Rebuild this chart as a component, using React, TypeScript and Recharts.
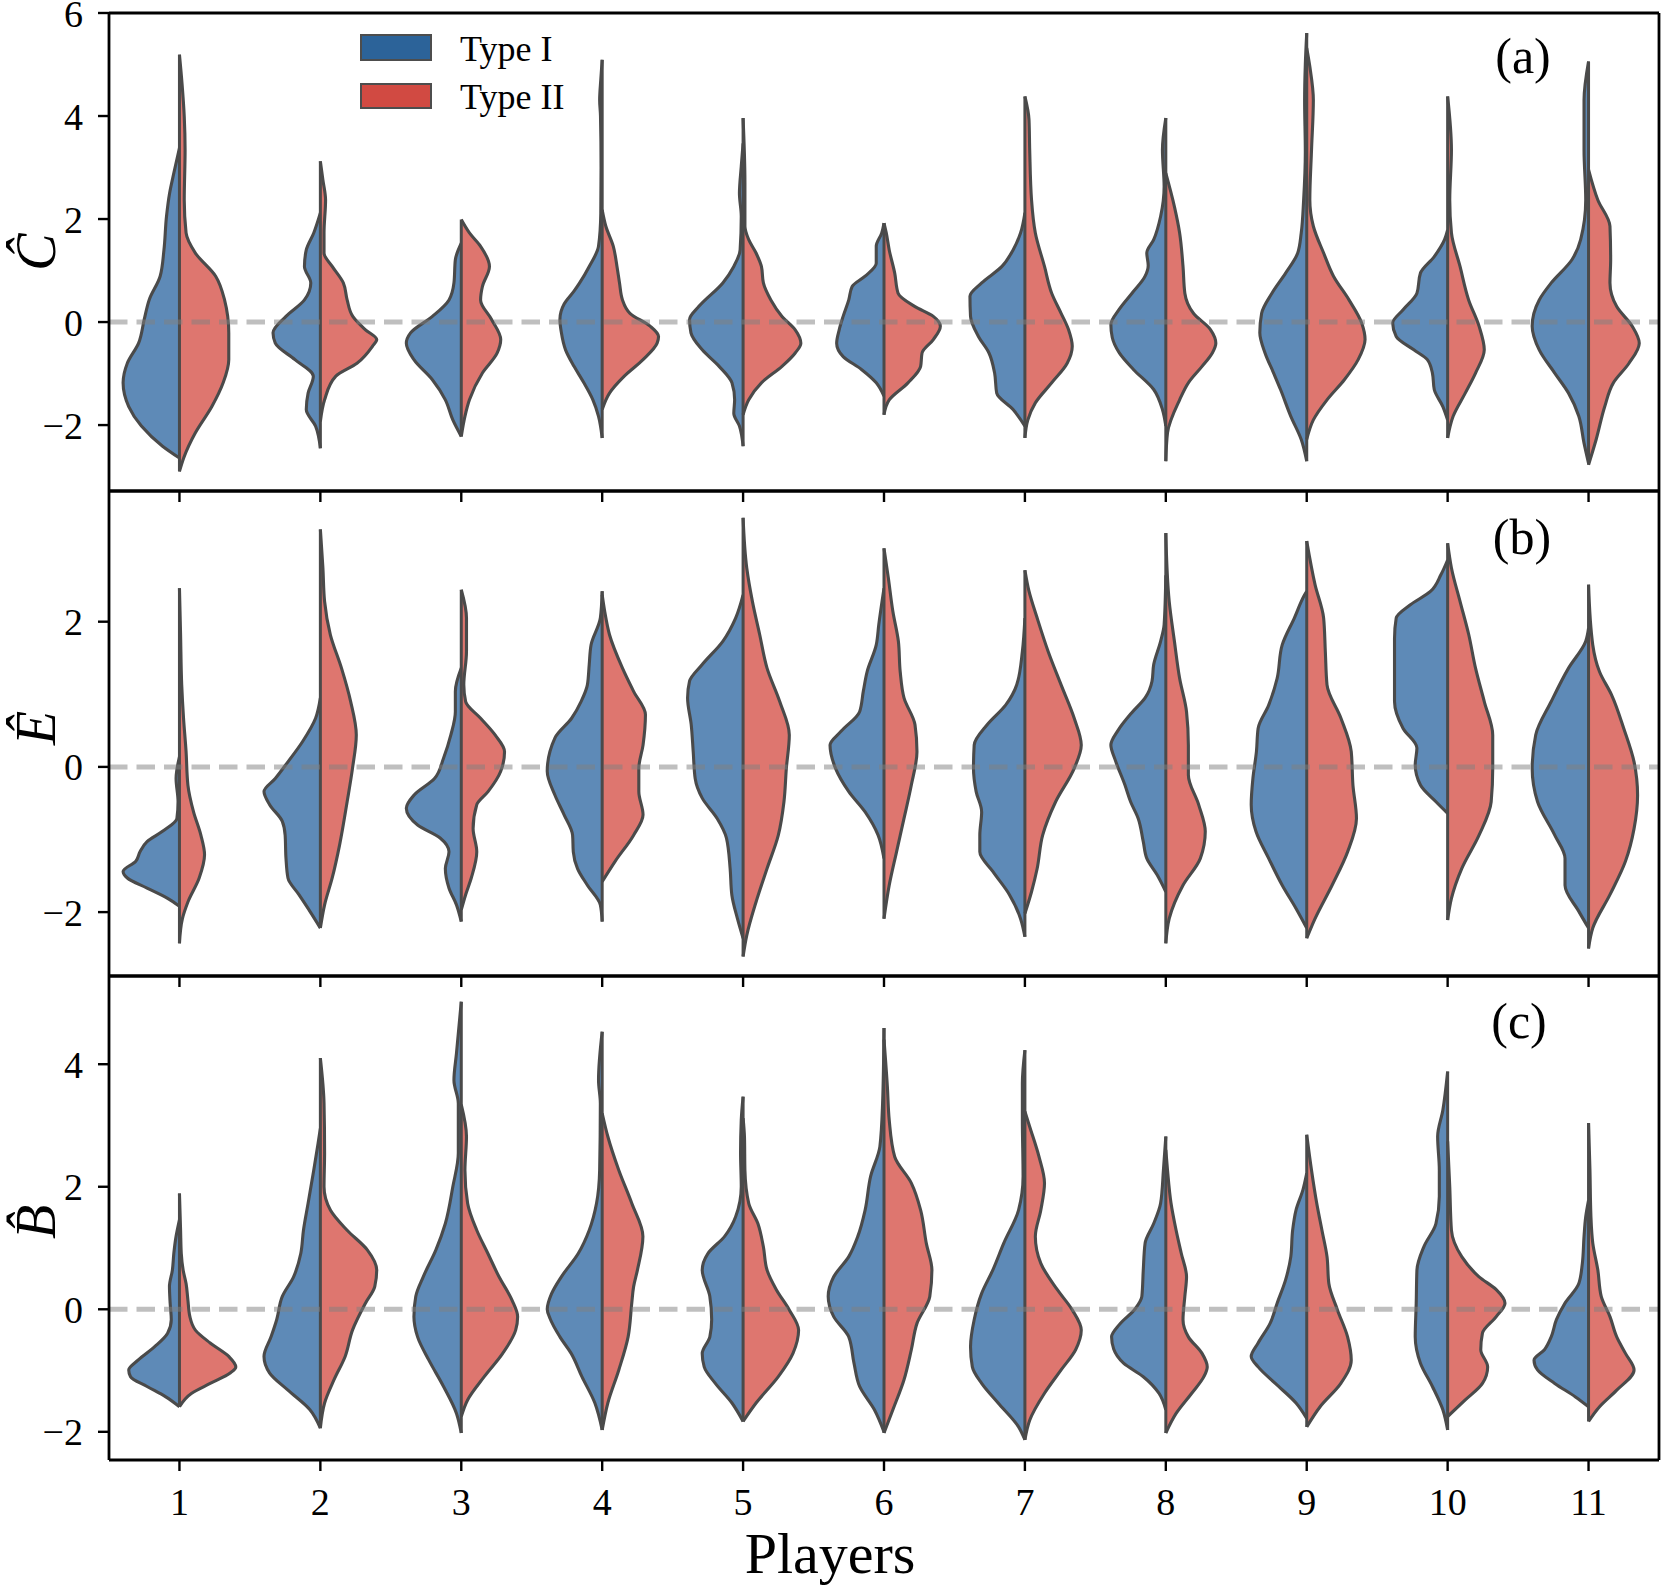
import { ComposedChart, Area, XAxis, YAxis, ReferenceLine } from "recharts";

type Pt = [number, number]; // [value, half width in player units]

const players = [1, 2, 3, 4, 5, 6, 7, 8, 9, 10, 11];

// panel (a) C-hat
const cTicks = [-2, 0, 2, 4, 6];
const cDomain: [number, number] = [-3.28, 6];
const cTypeI: Pt[][] = [
  [[-2.64,0],[-2.41,0.12],[-2.02,0.27],[-1.64,0.36],[-1.18,0.4],[-0.8,0.37],[-0.41,0.29],[0.05,0.25],[0.43,0.215],[0.89,0.137],[1.4,0.11],[2.05,0.092],[2.5,0.07],[2.89,0.04],[3.38,0]],
  [[-2.45,0],[-2.02,0.034],[-1.7,0.1],[-1.38,0.087],[-1.05,0.05],[-0.73,0.18],[-0.41,0.32],[-0.21,0.336],[0.11,0.244],[0.43,0.113],[0.76,0.068],[1.08,0.113],[1.4,0.1],[1.73,0.047],[2.12,0]],
  [[-2.22,0],[-1.9,0.06],[-1.51,0.113],[-1.12,0.205],[-0.73,0.336],[-0.41,0.39],[-0.21,0.36],[0.11,0.205],[0.43,0.087],[0.76,0.052],[1.21,0.042],[1.53,0]],
  [[-2.25,0],[-1.83,0.026],[-1.51,0.066],[-1.18,0.13],[-0.86,0.2],[-0.54,0.26],[-0.2,0.29],[0.05,0.3],[0.35,0.27],[0.6,0.2],[0.76,0.16],[1.08,0.092],[1.47,0.026],[2.1,0.01],[3.0,0.008],[4.0,0.012],[4.31,0.018],[4.7,0.01],[5.09,0]],
  [[-2.41,0],[-2.02,0.026],[-1.77,0.066],[-1.51,0.06],[-1.18,0.079],[-0.86,0.17],[-0.54,0.29],[-0.21,0.37],[0.05,0.38],[0.3,0.315],[0.76,0.144],[1.08,0.066],[1.4,0.021],[2.05,0.013],[2.5,0.026],[3.02,0.013],[3.47,0]],
  [[-1.44,0],[-1.18,0.055],[-0.92,0.16],[-0.67,0.29],[-0.41,0.336],[-0.15,0.318],[0.11,0.29],[0.43,0.25],[0.69,0.226],[0.89,0.134],[1.14,0.055],[1.47,0.055],[1.73,0.016],[1.92,0]],
  [[-2.02,0],[-1.7,0.084],[-1.38,0.2],[-0.99,0.215],[-0.6,0.255],[-0.28,0.33],[0.11,0.386],[0.5,0.39],[0.76,0.307],[1.08,0.163],[1.4,0.084],[1.73,0.031],[2.12,0]],
  [[-2.02,0],[-1.7,0.024],[-1.31,0.086],[-0.92,0.23],[-0.6,0.33],[-0.3,0.38],[-0.05,0.39],[0.25,0.33],[0.56,0.24],[0.89,0.147],[1.1,0.125],[1.34,0.135],[1.6,0.086],[2.05,0.037],[2.63,0.012],[3.34,0.024],[3.96,0]],
  [[-2.7,0],[-2.28,0.039],[-1.83,0.113],[-1.31,0.186],[-0.99,0.235],[-0.6,0.296],[-0.21,0.333],[0.17,0.32],[0.56,0.247],[0.95,0.15],[1.34,0.064],[1.73,0.039],[2.37,0.022],[3.3,0.01],[4.3,0.015],[5.0,0.01],[5.61,0]],
  [[-1.9,0],[-1.64,0.034],[-1.31,0.095],[-0.99,0.108],[-0.73,0.144],[-0.54,0.24],[-0.28,0.365],[-0.02,0.39],[0.24,0.316],[0.56,0.218],[0.95,0.193],[1.27,0.095],[1.6,0.022],[1.79,0]],
  [[-2.74,0],[-2.35,0.032],[-1.83,0.069],[-1.38,0.142],[-0.99,0.24],[-0.54,0.35],[-0.08,0.4],[0.43,0.35],[0.76,0.265],[1.21,0.118],[1.6,0.056],[2.37,0.02],[3.34,0.032],[4.31,0.032],[5.06,0]],
];
const cTypeII: Pt[][] = [
  [[-2.9,0],[-2.61,0.034],[-2.15,0.113],[-1.64,0.23],[-1.18,0.31],[-0.73,0.35],[-0.21,0.35],[0.43,0.32],[0.89,0.257],[1.34,0.113],[1.73,0.047],[2.37,0.034],[3.34,0.04],[3.99,0.034],[4.64,0.018],[5.19,0]],
  [[-1.93,0],[-1.51,0.03],[-1.05,0.11],[-0.8,0.26],[-0.47,0.37],[-0.34,0.4],[-0.15,0.32],[0.11,0.23],[0.43,0.19],[0.76,0.163],[1.08,0.084],[1.34,0.026],[1.73,0.026],[2.37,0.037],[2.76,0.018],[3.12,0]],
  [[-2.22,0],[-1.83,0.026],[-1.51,0.058],[-0.99,0.15],[-0.6,0.255],[-0.34,0.28],[0.05,0.215],[0.43,0.137],[0.69,0.15],[1.08,0.2],[1.47,0.137],[1.73,0.058],[1.99,0]],
  [[-1.7,0],[-1.38,0.052],[-1.05,0.157],[-0.73,0.29],[-0.41,0.39],[-0.28,0.4],[-0.08,0.34],[0.17,0.197],[0.43,0.144],[0.76,0.123],[1.08,0.105],[1.47,0.079],[1.86,0.026],[2.18,0]],
  [[-1.8,0],[-1.51,0.04],[-1.18,0.13],[-0.86,0.276],[-0.6,0.37],[-0.41,0.41],[-0.15,0.37],[0.11,0.276],[0.43,0.197],[0.76,0.144],[1.08,0.13],[1.34,0.092],[1.6,0.04],[1.86,0.013],[2.7,0.013],[3.96,0]],
  [[-1.8,0],[-1.51,0.037],[-1.18,0.17],[-0.86,0.26],[-0.6,0.27],[-0.34,0.35],[-0.08,0.4],[0.11,0.35],[0.3,0.22],[0.56,0.1],[0.95,0.076],[1.4,0.037],[1.73,0.016],[1.92,0]],
  [[-2.25,0],[-1.9,0.021],[-1.57,0.074],[-1.18,0.19],[-0.8,0.3],[-0.47,0.336],[-0.15,0.31],[0.17,0.257],[0.56,0.19],[1.08,0.139],[1.73,0.074],[2.37,0.047],[3.34,0.034],[3.93,0.029],[4.38,0]],
  [[-2.7,0],[-2.15,0.012],[-1.51,0.098],[-1.18,0.16],[-0.86,0.257],[-0.6,0.33],[-0.41,0.355],[-0.15,0.318],[0.17,0.196],[0.56,0.135],[1.08,0.122],[1.73,0.098],[2.24,0.061],[2.89,0]],
  [[-2.28,0],[-1.9,0.047],[-1.51,0.144],[-1.12,0.267],[-0.73,0.365],[-0.34,0.414],[-0.02,0.39],[0.43,0.3],[0.89,0.19],[1.34,0.12],[1.86,0.047],[2.37,0.022],[3.34,0.034],[4.31,0.047],[4.96,0.022],[5.32,0]],
  [[-2.25,0],[-1.83,0.039],[-1.38,0.125],[-0.99,0.198],[-0.54,0.26],[-0.08,0.223],[0.43,0.149],[1.08,0.088],[1.73,0.027],[2.37,0.015],[3.34,0.027],[4.38,0]],
  [[-2.77,0],[-2.28,0.054],[-1.64,0.115],[-1.18,0.176],[-0.8,0.287],[-0.41,0.36],[-0.08,0.31],[0.3,0.2],[0.76,0.152],[1.21,0.157],[1.86,0.152],[2.37,0.066],[2.96,0]],
];

// panel (b) E-hat
const eTicks = [-2, 0, 2];
const eDomain: [number, number] = [-2.88, 3.8];
const eTypeI: Pt[][] = [
  [[-1.92,0],[-1.81,0.084],[-1.67,0.23],[-1.53,0.37],[-1.44,0.4],[-1.3,0.31],[-1.17,0.28],[-1.03,0.23],[-0.89,0.123],[-0.71,0.018],[-0.48,0.01],[-0.16,0.024],[0.14,0]],
  [[-2.22,0],[-1.99,0.074],[-1.76,0.152],[-1.53,0.23],[-1.26,0.244],[-0.94,0.25],[-0.75,0.27],[-0.52,0.36],[-0.34,0.4],[-0.16,0.32],[0.07,0.23],[0.35,0.126],[0.67,0.034],[0.95,0]],
  [[-2.13,0],[-1.9,0.034],[-1.67,0.087],[-1.4,0.113],[-1.17,0.087],[-0.98,0.15],[-0.8,0.31],[-0.57,0.39],[-0.39,0.336],[-0.16,0.19],[0.12,0.126],[0.44,0.074],[0.76,0.042],[1.04,0.042],[1.36,0]],
  [[-2.13,0],[-1.9,0.013],[-1.63,0.105],[-1.4,0.175],[-1.17,0.205],[-0.94,0.21],[-0.66,0.27],[-0.39,0.335],[-0.06,0.39],[0.4,0.335],[0.67,0.217],[0.9,0.15],[1.13,0.105],[1.41,0.092],[1.68,0.079],[2.05,0.013],[2.42,0]],
  [[-2.36,0],[-2.09,0.04],[-1.76,0.08],[-1.4,0.092],[-0.98,0.118],[-0.71,0.184],[-0.43,0.29],[-0.16,0.34],[0.21,0.354],[0.58,0.368],[0.95,0.394],[1.18,0.38],[1.41,0.29],[1.73,0.144],[2.05,0.053],[2.37,0]],
  [[-1.26,0],[-0.94,0.042],[-0.62,0.134],[-0.34,0.25],[-0.02,0.344],[0.3,0.383],[0.49,0.305],[0.76,0.173],[1.04,0.147],[1.31,0.12],[1.68,0.055],[1.96,0.037],[2.46,0]],
  [[-2.34,0],[-2.09,0.031],[-1.76,0.11],[-1.44,0.228],[-1.17,0.32],[-0.94,0.32],[-0.62,0.307],[-0.34,0.346],[-0.02,0.365],[0.3,0.36],[0.58,0.268],[0.85,0.137],[1.13,0.058],[1.59,0.018],[2.05,0]],
  [[-1.72,0],[-1.49,0.061],[-1.26,0.135],[-1.03,0.16],[-0.71,0.196],[-0.48,0.25],[-0.25,0.29],[0.1,0.36],[0.3,0.39],[0.5,0.34],[0.75,0.24],[0.95,0.147],[1.18,0.098],[1.41,0.086],[1.73,0.037],[1.96,0.012],[2.64,0]],
  [[-2.22,0],[-1.95,0.076],[-1.63,0.174],[-1.26,0.27],[-0.89,0.36],[-0.52,0.394],[-0.16,0.382],[0.21,0.357],[0.53,0.345],[0.85,0.27],[1.22,0.21],[1.68,0.174],[2.05,0.088],[2.37,0.015],[2.42,0]],
  [[-0.64,0],[-0.48,0.083],[-0.25,0.193],[0.03,0.23],[0.26,0.218],[0.53,0.316],[0.9,0.377],[1.31,0.377],[1.77,0.377],[2.05,0.365],[2.23,0.267],[2.42,0.12],[2.65,0.047],[2.85,0]],
  [[-2.22,0],[-1.99,0.069],[-1.63,0.167],[-1.26,0.167],[-0.94,0.24],[-0.48,0.362],[-0.02,0.4],[0.44,0.375],[0.9,0.265],[1.36,0.142],[1.73,0.02],[1.91,0]],
];
const eTypeII: Pt[][] = [
  [[-2.43,0],[-2.09,0.021],[-1.86,0.06],[-1.53,0.14],[-1.21,0.178],[-0.94,0.152],[-0.62,0.1],[-0.25,0.06],[0.21,0.047],[0.67,0.029],[1.13,0.016],[1.82,0.008],[2.46,0]],
  [[-2.22,0],[-1.9,0.03],[-1.53,0.084],[-1.07,0.137],[-0.48,0.19],[-0.02,0.228],[0.44,0.255],[0.9,0.215],[1.36,0.15],[1.82,0.071],[2.28,0.03],[2.74,0.018],[3.27,0]],
  [[-1.97,0],[-1.76,0.031],[-1.53,0.071],[-1.17,0.11],[-0.85,0.084],[-0.52,0.11],[-0.34,0.19],[-0.06,0.28],[0.21,0.307],[0.44,0.24],[0.67,0.137],[0.9,0.031],[1.13,0.018],[1.59,0.037],[2.05,0.037],[2.44,0]],
  [[-1.58,0],[-1.3,0.092],[-0.94,0.223],[-0.66,0.29],[-0.34,0.26],[-0.02,0.26],[0.3,0.29],[0.72,0.307],[1.04,0.223],[1.36,0.144],[1.82,0.052],[2.14,0.018],[2.37,0]],
  [[-2.61,0],[-2.32,0.026],[-1.86,0.092],[-1.4,0.17],[-0.94,0.25],[-0.48,0.29],[-0.02,0.307],[0.44,0.328],[0.9,0.26],[1.36,0.17],[1.82,0.118],[2.28,0.066],[2.74,0.026],[3.43,0]],
  [[-2.09,0],[-1.63,0.037],[-1.17,0.089],[-0.71,0.142],[-0.25,0.194],[0.21,0.234],[0.58,0.22],[0.95,0.142],[1.31,0.115],[1.73,0.102],[2.14,0.063],[2.6,0.031],[3.01,0]],
  [[-2.02,0],[-1.72,0.047],[-1.4,0.087],[-0.94,0.126],[-0.48,0.218],[-0.02,0.35],[0.3,0.4],[0.67,0.35],[1.13,0.257],[1.59,0.165],[2.05,0.087],[2.42,0.029],[2.71,0]],
  [[-2.43,0],[-2.09,0.024],[-1.63,0.122],[-1.26,0.245],[-0.89,0.28],[-0.52,0.233],[-0.11,0.16],[0.3,0.16],[0.76,0.147],[1.22,0.098],[1.73,0.061],[2.28,0.024],[3.22,0]],
  [[-2.36,0],[-2.09,0.059],[-1.63,0.18],[-1.17,0.29],[-0.71,0.353],[-0.25,0.328],[0.21,0.316],[0.67,0.243],[1.13,0.144],[1.59,0.132],[2.05,0.12],[2.51,0.059],[3.11,0]],
  [[-2.11,0],[-1.81,0.027],[-1.4,0.1],[-0.94,0.223],[-0.48,0.309],[-0.02,0.32],[0.44,0.32],[0.9,0.26],[1.36,0.198],[1.82,0.15],[2.28,0.088],[2.74,0.027],[3.08,0]],
  [[-2.5,0],[-2.22,0.03],[-1.76,0.152],[-1.3,0.262],[-0.85,0.323],[-0.39,0.348],[0.07,0.323],[0.53,0.25],[0.99,0.164],[1.31,0.078],[1.68,0.03],[2.51,0]],
];

// panel (c) B-hat
const bTicks = [-2, 0, 2, 4];
const bDomain: [number, number] = [-2.46, 5.44];
const bTypeI: Pt[][] = [
  [[-1.59,0],[-1.43,0.097],[-1.26,0.23],[-1.1,0.347],[-0.99,0.36],[-0.83,0.294],[-0.61,0.176],[-0.39,0.084],[-0.17,0.058],[0.1,0.066],[0.37,0.071],[0.64,0.05],[0.91,0.04],[1.19,0.024],[1.46,0]],
  [[-1.94,0],[-1.64,0.074],[-1.32,0.23],[-1.04,0.36],[-0.77,0.4],[-0.45,0.35],[-0.17,0.31],[0.21,0.27],[0.53,0.19],[0.91,0.139],[1.29,0.12],[1.73,0.087],[2.27,0.047],[2.71,0.016],[2.95,0]],
  [[-2.02,0],[-1.7,0.034],[-1.26,0.126],[-0.83,0.23],[-0.45,0.31],[-0.12,0.336],[0.21,0.323],[0.53,0.27],[0.97,0.18],[1.4,0.113],[2.0,0.06],[2.55,0.021],[3.36,0.021],[3.74,0.052],[4.18,0.034],[5.02,0]],
  [[-1.97,0],[-1.53,0.052],[-1.1,0.144],[-0.72,0.22],[-0.45,0.3],[-0.15,0.37],[0.0,0.39],[0.25,0.36],[0.53,0.29],[0.91,0.17],[1.29,0.092],[1.73,0.04],[2.27,0.018],[3.36,0.013],[3.74,0.026],[4.53,0]],
  [[-1.83,0],[-1.53,0.079],[-1.21,0.197],[-0.94,0.276],[-0.72,0.29],[-0.45,0.236],[-0.17,0.223],[0.21,0.236],[0.64,0.29],[0.91,0.25],[1.19,0.131],[1.51,0.053],[2.0,0.013],[2.55,0.018],[3.09,0.013],[3.47,0]],
  [[-2.0,0],[-1.64,0.068],[-1.26,0.173],[-0.88,0.213],[-0.45,0.25],[-0.12,0.357],[0.21,0.396],[0.53,0.357],[0.86,0.25],[1.19,0.186],[1.62,0.134],[2.17,0.095],[2.66,0.029],[3.36,0.01],[4.59,0]],
  [[-2.13,0],[-1.92,0.045],[-1.53,0.19],[-1.21,0.307],[-0.94,0.373],[-0.61,0.386],[-0.17,0.36],[0.26,0.307],[0.64,0.228],[1.08,0.15],[1.62,0.045],[2.17,0.013],[3.09,0.018],[3.69,0.018],[4.23,0]],
  [[-1.64,0],[-1.37,0.049],[-1.1,0.16],[-0.88,0.3],[-0.65,0.37],[-0.45,0.385],[-0.25,0.33],[0.0,0.22],[0.21,0.17],[0.64,0.16],[1.08,0.147],[1.4,0.086],[1.73,0.037],[2.27,0.017],[2.82,0]],
  [[-1.78,0],[-1.53,0.076],[-1.21,0.223],[-0.94,0.345],[-0.77,0.394],[-0.55,0.345],[-0.23,0.26],[0.1,0.21],[0.48,0.15],[0.86,0.113],[1.29,0.1],[1.62,0.076],[1.95,0.027],[2.22,0]],
  [[-1.97,0],[-1.64,0.034],[-1.26,0.108],[-0.88,0.193],[-0.45,0.23],[0.1,0.223],[0.64,0.218],[1.02,0.169],[1.4,0.083],[1.84,0.059],[2.27,0.059],[2.82,0.071],[3.25,0.034],[3.88,0]],
  [[-1.59,0],[-1.43,0.093],[-1.21,0.24],[-0.99,0.362],[-0.83,0.387],[-0.66,0.313],[-0.45,0.265],[-0.17,0.228],[0.1,0.167],[0.42,0.069],[0.75,0.044],[1.19,0.032],[1.51,0.02],[1.78,0]],
];
const bTypeII: Pt[][] = [
  [[-1.59,0],[-1.37,0.087],[-1.21,0.218],[-1.04,0.36],[-0.94,0.4],[-0.77,0.35],[-0.55,0.218],[-0.34,0.113],[-0.12,0.074],[0.15,0.06],[0.42,0.047],[0.64,0.026],[0.91,0.013],[1.29,0.008],[1.89,0]],
  [[-1.94,0],[-1.53,0.03],[-1.15,0.097],[-0.77,0.176],[-0.34,0.228],[0.1,0.32],[0.37,0.386],[0.64,0.4],[0.97,0.333],[1.29,0.19],[1.62,0.071],[2.0,0.026],[2.55,0.03],[3.36,0.026],[4.1,0]],
  [[-1.75,0],[-1.48,0.045],[-1.1,0.163],[-0.72,0.294],[-0.34,0.386],[-0.12,0.4],[0.15,0.36],[0.53,0.268],[0.91,0.189],[1.29,0.11],[1.73,0.045],[2.27,0.026],[2.82,0.037],[3.34,0]],
  [[-1.97,0],[-1.53,0.04],[-0.99,0.118],[-0.45,0.184],[0.1,0.21],[0.37,0.223],[0.64,0.25],[1.19,0.289],[1.73,0.21],[2.27,0.118],[2.82,0.04],[3.2,0]],
  [[-1.83,0],[-1.53,0.092],[-1.1,0.25],[-0.72,0.354],[-0.34,0.394],[-0.01,0.328],[0.32,0.236],[0.64,0.17],[1.02,0.144],[1.4,0.105],[1.73,0.04],[2.27,0.013],[2.8,0.01],[3.12,0]],
  [[-2.02,0],[-1.64,0.063],[-1.15,0.142],[-0.66,0.194],[-0.23,0.234],[0.21,0.325],[0.64,0.34],[1.08,0.3],[1.62,0.26],[2.06,0.194],[2.49,0.076],[3.09,0.037],[3.63,0.024],[4.4,0]],
  [[-2.13,0],[-1.81,0.034],[-1.37,0.139],[-0.99,0.257],[-0.66,0.36],[-0.34,0.4],[-0.01,0.336],[0.32,0.23],[0.75,0.113],[1.19,0.074],[1.62,0.113],[2.06,0.139],[2.49,0.1],[2.98,0.034],[3.23,0]],
  [[-2.02,0],[-1.7,0.073],[-1.37,0.184],[-1.1,0.27],[-0.94,0.294],[-0.72,0.257],[-0.45,0.16],[-0.17,0.122],[0.21,0.135],[0.53,0.147],[0.91,0.11],[1.29,0.073],[1.73,0.037],[2.27,0.012],[2.6,0]],
  [[-1.92,0],[-1.59,0.095],[-1.21,0.242],[-0.83,0.316],[-0.45,0.29],[-0.01,0.218],[0.42,0.157],[0.86,0.144],[1.29,0.108],[1.73,0.071],[2.27,0.034],[2.85,0]],
  [[-1.75,0],[-1.48,0.125],[-1.21,0.247],[-0.94,0.284],[-0.66,0.235],[-0.39,0.247],[-0.12,0.345],[0.1,0.407],[0.32,0.345],[0.53,0.223],[0.86,0.1],[1.29,0.027],[2.0,0.015],[2.74,0]],
  [[-1.83,0],[-1.59,0.078],[-1.32,0.2],[-0.99,0.323],[-0.72,0.262],[-0.45,0.2],[-0.12,0.152],[0.21,0.09],[0.64,0.066],[1.08,0.03],[1.51,0.017],[2.27,0.01],[3.04,0]],
];

const BLUE = "#5e8ab7";
const RED = "#de766f";
const EDGE = "#4a4a4a";
const SERIF = "'Liberation Serif', 'Times New Roman', serif";

const fmt = (v: number) => (v < 0 ? `\u2212${-v}` : `${v}`);

// one row per outline point; each half violin only fills its own key
function buildRows(left: Pt[][], right: Pt[][]) {
  const rows: Record<string, number>[] = [];
  players.forEach((p, i) => {
    [...left[i]].reverse().forEach(([v, w]) => rows.push({ v, [`L${p}`]: p - w }));
    [...right[i]].reverse().forEach(([v, w]) => rows.push({ v, [`R${p}`]: p + w }));
  });
  return rows;
}

interface PanelProps {
  top: number;
  height: number;
  marginTop: number;
  xHeight: number;
  domain: [number, number];
  ticks: number[];
  left: Pt[][];
  right: Pt[][];
  showX: boolean;
}

function ViolinPanel({ top, height, marginTop, xHeight, domain, ticks, left, right, showX }: PanelProps) {
  const rows = buildRows(left, right);
  const tickStyle = { fontSize: 38, fontFamily: SERIF, fill: "#000" };
  return (
    <div style={{ position: "absolute", left: 0, top }}>
      <ComposedChart
        width={1661}
        height={height}
        data={rows}
        layout="vertical"
        margin={{ top: marginTop, right: 2, bottom: 0, left: 39 }}
      >
        <XAxis
          type="number"
          domain={[0.5, 11.5]}
          ticks={players}
          interval={0}
          allowDataOverflow
          height={xHeight}
          tickSize={11}
          tickMargin={17}
          tick={tickStyle}
          tickFormatter={showX ? (v: number) => `${v}` : () => ""}
          axisLine={{ stroke: "#000", strokeWidth: 2.8 }}
          tickLine={{ stroke: "#000", strokeWidth: 2.4 }}
        />
        <YAxis
          type="number"
          dataKey="v"
          domain={domain}
          ticks={ticks}
          interval={0}
          allowDataOverflow
          reversed
          width={70}
          tickSize={11}
          tickMargin={15}
          tick={tickStyle}
          tickFormatter={fmt}
          axisLine={{ stroke: "#000", strokeWidth: 2.8 }}
          tickLine={{ stroke: "#000", strokeWidth: 2.4 }}
        />
        {players.map((p) => (
          <Area
            key={`L${p}`}
            dataKey={`L${p}`}
            baseValue={p}
            type="monotone"
            connectNulls
            fill={BLUE}
            fillOpacity={1}
            stroke={EDGE}
            strokeWidth={3.1}
            dot={false}
            activeDot={false}
            isAnimationActive={false}
          />
        ))}
        {players.map((p) => (
          <Area
            key={`R${p}`}
            dataKey={`R${p}`}
            baseValue={p}
            type="monotone"
            connectNulls
            fill={RED}
            fillOpacity={1}
            stroke={EDGE}
            strokeWidth={3.1}
            dot={false}
            activeDot={false}
            isAnimationActive={false}
          />
        ))}
        {players.map((p, i) => {
          const lo = Math.min(left[i][0][0], right[i][0][0]);
          const hi = Math.max(left[i][left[i].length - 1][0], right[i][right[i].length - 1][0]);
          return (
            <ReferenceLine
              key={`c${p}`}
              segment={[{ x: p, y: lo }, { x: p, y: hi }]}
              stroke={EDGE}
              strokeWidth={3}
            />
          );
        })}
        <ReferenceLine y={0} stroke="#808080" strokeOpacity={0.5} strokeWidth={5} strokeDasharray="18.5 9" />
        <ReferenceLine y={domain[1]} stroke="#000" strokeWidth={2.8} ifOverflow="visible" />
        <ReferenceLine x={11.5} stroke="#000" strokeWidth={2.8} ifOverflow="visible" />
      </ComposedChart>
    </div>
  );
}

export default function App() {
  return (
    <div style={{ position: "absolute", left: 0, top: 0, width: 1661, height: 1586, background: "#fff" }}>
      <ViolinPanel top={0} height={521} marginTop={13} xHeight={30} domain={cDomain} ticks={cTicks} left={cTypeI} right={cTypeII} showX={false} />
      <ViolinPanel top={461} height={545} marginTop={30} xHeight={30} domain={eDomain} ticks={eTicks} left={eTypeI} right={eTypeII} showX={false} />
      <ViolinPanel top={946} height={640} marginTop={30} xHeight={126} domain={bDomain} ticks={bTicks} left={bTypeI} right={bTypeII} showX />
      <svg
        width={1661}
        height={1586}
        style={{ position: "absolute", left: 0, top: 0, pointerEvents: "none" }}
        fontFamily={SERIF}
      >
        <rect x={361} y={35} width={70} height={25} fill="#2c6399" stroke="#4d4d4d" strokeWidth={2} />
        <text x={460} y={61} fontSize={36}>Type I</text>
        <rect x={361} y={84} width={70} height={24} fill="#d14a42" stroke="#4d4d4d" strokeWidth={2} />
        <text x={460} y={109} fontSize={36}>Type II</text>
        <text x={1523} y={73} textAnchor="middle" fontSize={50}>(a)</text>
        <text x={1522} y={554} textAnchor="middle" fontSize={50}>(b)</text>
        <text x={1519} y={1038} textAnchor="middle" fontSize={50}>(c)</text>
        <text transform="translate(55,252) rotate(-90)" textAnchor="middle" fontStyle="italic" fontSize={56}>{"\u0108"}</text>
        <text transform="translate(55,728) rotate(-90)" textAnchor="middle" fontStyle="italic" fontSize={56}>{"\u00CA"}</text>
        <text transform="translate(55,1222) rotate(-90)" textAnchor="middle" fontStyle="italic" fontSize={56}>{"B\u0302"}</text>
        <text x={830} y={1573} textAnchor="middle" fontSize={58}>Players</text>
      </svg>
    </div>
  );
}
